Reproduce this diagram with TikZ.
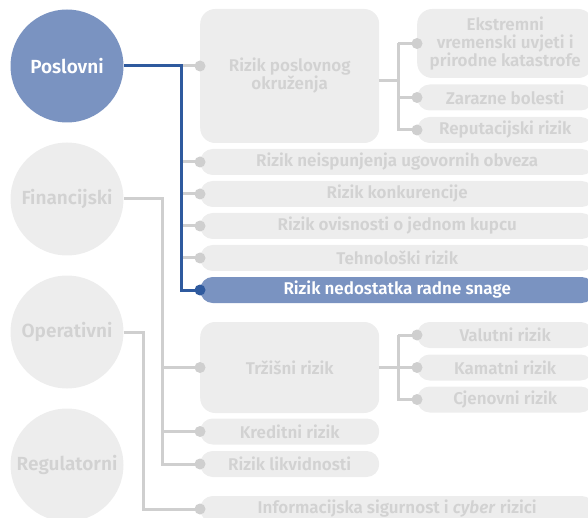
\documentclass[tikz,border=0pt]{standalone}
\usepackage{fontspec}
\setmainfont{Fira Sans}[BoldFont={* SemiBold},BoldItalicFont={* SemiBold Italic}]

\definecolor{softgray}{HTML}{EDEDED}
\definecolor{inkgray}{HTML}{D2D2D2}
\definecolor{linegray}{HTML}{CFCFCF}
\definecolor{softblue}{HTML}{7A93C1}
\definecolor{deepblue}{HTML}{2F5A9E}

\tikzset{
  riskcat/.style={circle, fill=softgray, text=inkgray, minimum size=113pt, inner sep=0pt,
    font=\bfseries\fontsize{19}{21}\selectfont},
  riskbox/.style={rectangle, rounded corners=12.5pt, fill=softgray, text=inkgray,
    minimum height=26pt, inner sep=0pt, anchor=west, align=center,
    font=\bfseries\fontsize{17}{18}\selectfont},
  active/.style={fill=softblue, text=white},
  link/.style={draw=linegray, line width=3pt},
  hlink/.style={draw=deepblue, line width=3pt},
}

\begin{document}
\begin{tikzpicture}[x=1pt, y=-1pt]
  \useasboundingbox (0,0) rectangle (588,518);
  \clip (0,0) rectangle (588,518);

  % categories
  \node[riskcat, active] (Pos) at (67,66)  {Poslovni};
  \node[riskcat] (Fin) at (67,199) {Financijski};
  \node[riskcat] (Ope) at (67,332) {Operativni};
  \node[riskcat] (Reg) at (67,465) {Regulatorni};

  % business risks
  \node[riskbox, rounded corners=15pt, minimum width=179pt, minimum height=134pt] (Env) at (200,76) {Rizik poslovnog\\okruženja};
  \node[riskbox, rounded corners=15pt, minimum width=176pt, minimum height=69pt] (Ext) at (417,43.5) {Ekstremni\\vremenski uvjeti i\\prirodne katastrofe};
  \node[riskbox, minimum width=176pt] (Zar) at (417,97.5) {Zarazne bolesti};
  \node[riskbox, minimum width=176pt] (Rep) at (417,130) {Reputacijski rizik};
  \node[riskbox, minimum width=394pt] (Ugo) at (200,162) {Rizik neispunjenja ugovornih obveza};
  \node[riskbox, minimum width=394pt] (Kon) at (200,194) {Rizik konkurencije};
  \node[riskbox, minimum width=394pt] (Kup) at (200,226) {Rizik ovisnosti o jednom kupcu};
  \node[riskbox, minimum width=394pt] (Teh) at (200,258) {Tehnološki rizik};
  \node[riskbox, active, minimum width=394pt] (Rad) at (200,290) {Rizik nedostatka radne snage};

  % financial risks
  \node[riskbox, rounded corners=15pt, minimum width=179pt, minimum height=91pt] (Trz) at (200,367.5) {Tržišni rizik};
  \node[riskbox, minimum width=176pt] (Val) at (417,335) {Valutni rizik};
  \node[riskbox, minimum width=176pt] (Kam) at (417,367.5) {Kamatni rizik};
  \node[riskbox, minimum width=176pt] (Cje) at (417,399.5) {Cjenovni rizik};
  \node[riskbox, minimum width=179pt] (Kre) at (200,431.5) {Kreditni rizik};
  \node[riskbox, minimum width=179pt] (Lik) at (200,464) {Rizik likvidnosti};

  % operational risks
  \node[riskbox, minimum width=394pt] (Inf) at (200,509) {Informacijska sigurnost i \textit{cyber} rizici};

  % joints
  \coordinate (PJ) at (181,66);
  \coordinate (FJ) at (162,199);
  \coordinate (OJ) at (143,332);
  \coordinate (EJ) at (398,81);
  \coordinate (TJ) at (398,367.5);

  % connectors
  \path[link] (PJ) -- (Pos.east -| Env.west);
  \foreach \b in {Ugo,Kon,Kup,Teh} \path[link] (\b.west -| PJ) -- (\b.west);
  \path[link] (EJ -| Env.east) -- (EJ) (Ext.west -| EJ) |- (Rep.west) (Zar.west -| EJ) -- (Zar.west) (Ext.west -| EJ) -- (Ext.west);
  \path[link] (Fin.east) -- (FJ) |- (Lik.west) (Trz.west -| FJ) -- (Trz.west) (Kre.west -| FJ) -- (Kre.west);
  \path[link] (TJ -| Trz.east) -- (TJ) (Val.west -| TJ) |- (Cje.west) (Val.west -| TJ) -- (Val.west) (Kam.west -| TJ) -- (Kam.west);
  \path[link] (Ope.east) -- (OJ) |- (Inf.west);
  \path[hlink] (Pos.east) -- (PJ) |- (Rad.west);

  % dots
  \foreach \b in {Ext,Zar,Rep,Ugo,Kon,Kup,Teh,Trz,Val,Kam,Cje,Kre,Lik,Inf}
    \fill[linegray] (\b.west) circle (5.5);
  \fill[linegray] (Pos.east -| Env.west) circle (5.5);
  \fill[deepblue] (Rad.west) circle (5.5);
\end{tikzpicture}
\end{document}
